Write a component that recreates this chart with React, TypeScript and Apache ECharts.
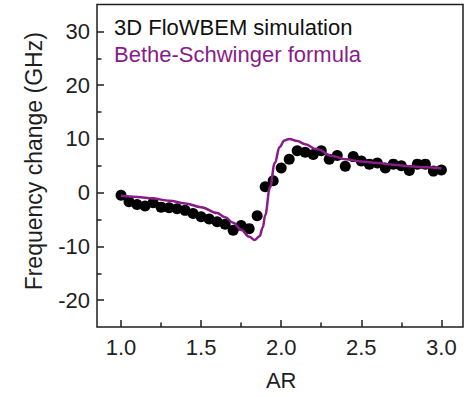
import React, { useEffect, useRef } from "react";
import * as echarts from "echarts";

// Simulation points (AR, frequency change in GHz)
const simAR = [
  1.0, 1.05, 1.1, 1.15, 1.2, 1.25, 1.3, 1.35, 1.4, 1.45, 1.5, 1.55, 1.6, 1.65,
  1.7, 1.75, 1.8, 1.85, 1.9, 1.95, 2.0, 2.05, 2.1, 2.15, 2.2, 2.25, 2.3, 2.35,
  2.4, 2.45, 2.5, 2.55, 2.6, 2.65, 2.7, 2.75, 2.8, 2.85, 2.9, 2.95, 3.0,
];
const simValues = [
  -0.5, -1.7, -2.2, -2.5, -1.9, -2.7, -2.8, -3.0, -3.3, -3.9, -4.5, -4.9, -5.4,
  -5.9, -7.0, -6.1, -6.7, -4.3, 1.1, 2.2, 4.6, 6.2, 7.8, 7.5, 7.1, 7.8, 6.2,
  6.9, 4.9, 6.7, 5.9, 5.3, 5.5, 4.6, 5.3, 5.0, 4.1, 5.3, 5.3, 4.0, 4.2,
];

// Bethe-Schwinger formula curve
const formulaAR = [
  1.0, 1.1, 1.2, 1.3, 1.4, 1.5, 1.6, 1.65, 1.7, 1.75, 1.8, 1.835, 1.865, 1.885,
  1.9, 1.93, 1.96, 1.99, 2.02, 2.05, 2.1, 2.15, 2.22, 2.32, 2.4, 2.5, 2.6, 2.7,
  2.8, 2.9, 3.0,
];
const formulaValues = [
  -0.6, -0.8, -1.1, -1.5, -2.0, -2.7, -3.8, -4.6, -5.6, -6.9, -8.2, -8.8, -8.1,
  -6.5, -4.2, 1.0, 5.5, 8.5, 9.7, 10.0, 9.6, 9.0, 8.1, 6.8, 6.2, 5.8, 5.5, 5.2,
  4.9, 4.7, 4.5,
];

const seriesNames = ["3D FloWBEM simulation", "Bethe-Schwinger formula"];
const xAxisName = "AR";
const yAxisName = "Frequency change (GHz)";

const W = 466;
const H = 397;
const FONT = "'Liberation Sans', Arial, sans-serif";
const PURPLE = "#8a1c8a";
const INK = "#1e1e1e";

// full frame extents
const X_MIN = 0.85;
const X_MAX = 3.135;
const Y_MIN = -25;
const Y_MAX = 35;
const FRAME = { left: 97, right: 3, top: 4.5, bottom: 70 };

export default function App() {
  const ref = useRef<HTMLDivElement>(null);

  useEffect(() => {
    document.body.style.margin = "0";
    if (!ref.current) return;
    const chart = echarts.init(ref.current, null, { renderer: "svg" });

    const fw = W - FRAME.left - FRAME.right;
    const fh = H - FRAME.top - FRAME.bottom;
    const px = (v: number) => FRAME.left + ((v - X_MIN) / (X_MAX - X_MIN)) * fw;
    const py = (v: number) => FRAME.top + ((Y_MAX - v) / (Y_MAX - Y_MIN)) * fh;

    const tickStyle = { color: INK, width: 1.5 };
    const labelStyle = { fontSize: 22, color: INK, fontFamily: FONT };

    const option: any = {
      animation: false,
      backgroundColor: "#fff",
      textStyle: { fontFamily: FONT },
      legend: {
        orient: "vertical",
        left: 109,
        top: 16.6,
        padding: 0,
        itemWidth: 0,
        itemHeight: 22,
        itemGap: 4.4,
        selectedMode: false,
        data: [
          { name: seriesNames[0], icon: "none", textStyle: { color: "#111", fontSize: 22, fontFamily: FONT } },
          { name: seriesNames[1], icon: "none", textStyle: { color: PURPLE, fontSize: 22, fontFamily: FONT } },
        ],
      },
      grid: [
        {
          left: FRAME.left,
          right: FRAME.right,
          top: FRAME.top,
          bottom: FRAME.bottom,
          show: true,
          borderColor: INK,
          borderWidth: 1.5,
          backgroundColor: "transparent",
        },
        {
          left: px(1),
          right: W - px(3),
          top: FRAME.top,
          bottom: FRAME.bottom,
        },
        {
          left: FRAME.left,
          right: FRAME.right,
          top: py(30),
          bottom: H - py(-20),
        },
      ],
      xAxis: [
        { gridIndex: 0, type: "value", min: X_MIN, max: X_MAX, show: false },
        {
          gridIndex: 1,
          type: "value",
          position: "bottom",
          min: 1,
          max: 3,
          interval: 0.5,
          axisLine: { show: false, onZero: false },
          axisTick: { show: true, inside: true, length: 7, lineStyle: tickStyle },
          minorTick: { show: true, splitNumber: 2, length: 4.5, lineStyle: tickStyle },
          splitLine: { show: false },
          axisLabel: { ...labelStyle, margin: 9, formatter: (v: number) => v.toFixed(1) },
          name: xAxisName,
          nameLocation: "middle",
          nameGap: 42,
          nameTextStyle: { fontSize: 22, color: INK, fontFamily: FONT },
        },
        { gridIndex: 2, type: "value", min: X_MIN, max: X_MAX, show: false },
      ],
      yAxis: [
        { gridIndex: 0, type: "value", min: Y_MIN, max: Y_MAX, show: false },
        { gridIndex: 1, type: "value", min: Y_MIN, max: Y_MAX, show: false },
        {
          gridIndex: 2,
          type: "value",
          position: "left",
          min: -20,
          max: 30,
          interval: 10,
          axisLine: { show: false, onZero: false },
          axisTick: { show: true, inside: true, length: 7, lineStyle: tickStyle },
          minorTick: { show: true, splitNumber: 2, length: 4.5, lineStyle: tickStyle },
          splitLine: { show: false },
          axisLabel: { ...labelStyle, margin: 7 },
          name: yAxisName,
          nameLocation: "middle",
          nameGap: 52,
          nameTextStyle: { fontSize: 23, color: INK, fontFamily: FONT, padding: [0, 0, 0, 9] },
        },
      ],
      series: [
        {
          name: seriesNames[0],
          type: "scatter",
          xAxisIndex: 0,
          yAxisIndex: 0,
          symbol: "circle",
          symbolSize: 11,
          clip: false,
          itemStyle: { color: "#000", opacity: 1 },
          data: simAR.map((x, i) => [x, simValues[i]]),
          z: 2,
        },
        {
          name: seriesNames[1],
          type: "line",
          xAxisIndex: 0,
          yAxisIndex: 0,
          showSymbol: false,
          symbol: "none",
          smooth: 0.4,
          smoothMonotone: "x",
          clip: false,
          lineStyle: { color: PURPLE, width: 2.5 },
          itemStyle: { color: PURPLE },
          data: formulaAR.map((x, i) => [x, formulaValues[i]]),
          z: 3,
        },
      ],
    };

    chart.setOption(option);
    return () => chart.dispose();
  }, []);

  return <div ref={ref} style={{ width: W, height: H }} />;
}
